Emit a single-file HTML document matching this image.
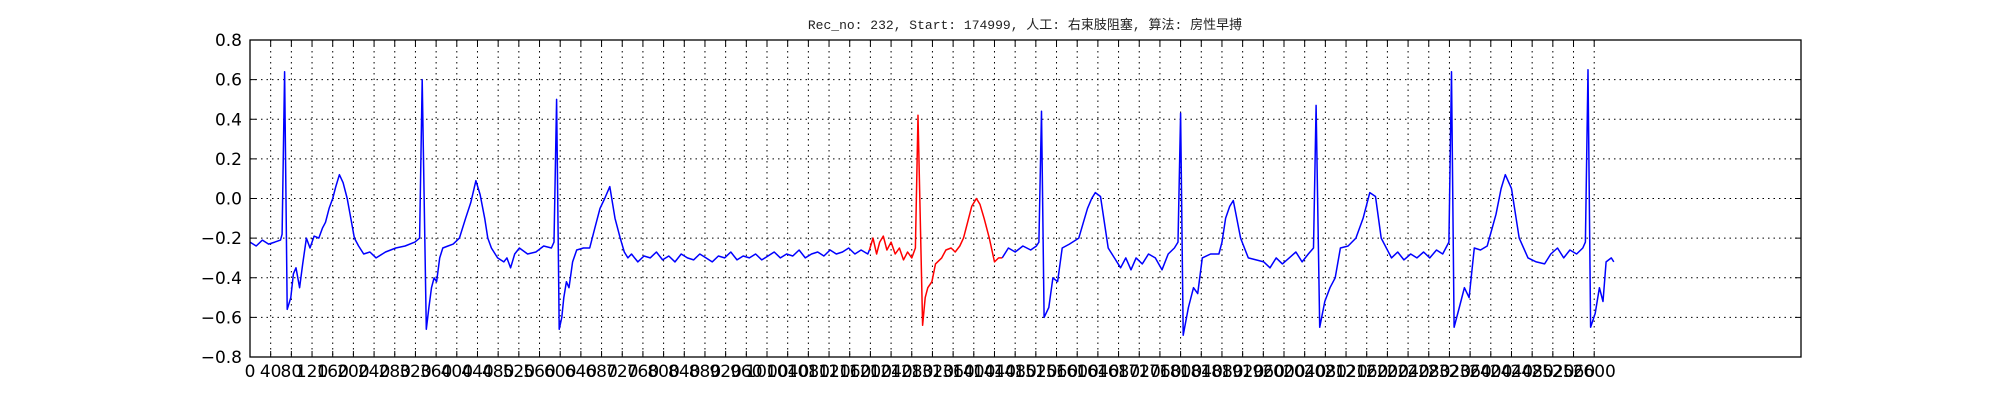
<!DOCTYPE html>
<html><head><meta charset="utf-8"><style>
html,body{margin:0;padding:0;background:#fff;}
svg{display:block;}
</style></head><body>
<svg id="chart" width="2000" height="400" xmlns="http://www.w3.org/2000/svg">
<rect width="2000" height="400" fill="#fff"/>
<text x="1025" y="29" text-anchor="middle" font-family="'Liberation Mono','Noto Sans CJK SC',monospace" font-size="13" fill="#222">Rec_no: 232, Start: 174999, 人工: 右束肢阻塞, 算法: 房性早搏</text>
<g id="grid"></g>
<g id="series"></g>
<rect x="250" y="40" width="1551" height="317" fill="none" stroke="#000" stroke-width="1.3"/>
<g id="ticks"></g>
</svg>
<script>
const yTicks = [0.8,0.6,0.4,0.2,0.0,-0.2,-0.4,-0.6,-0.8];
const yTickLabels = ["0.8","0.6","0.4","0.2","0.0","\u22120.2","\u22120.4","\u22120.6","\u22120.8"];
const xTicks = [];
for (let v = 0; v <= 2600; v += 40) xTicks.push(v);
const blueIdx = [0,12,24,36,48,59,62,67,72,79,84,89,96,102,109,116,124,133,140,146,153,160,166,173,180,188,195,202,210,220,232,244,262,282,300,319,328,333,341,346,351,356,361,367,373,383,393,405,417,427,437,445,454,460,467,479,491,497,504,512,521,537,553,568,583,588,593,598,603,607,612,617,624,632,645,657,667,677,686,696,706,716,724,731,738,750,762,774,786,798,810,822,834,846,858,870,882,894,906,918,930,942,954,966,978,990,1002,1014,1026,1038,1050,1062,1074,1086,1098,1110,1122,1134,1146,1158,1170,1182,1195,1198];
const blueVal = [-0.22,-0.24,-0.21,-0.23,-0.22,-0.21,-0.18,0.64,-0.56,-0.50,-0.38,-0.35,-0.45,-0.33,-0.20,-0.25,-0.19,-0.20,-0.15,-0.12,-0.05,0.0,0.06,0.12,0.08,0.0,-0.10,-0.20,-0.24,-0.28,-0.27,-0.30,-0.27,-0.25,-0.24,-0.22,-0.20,0.60,-0.66,-0.55,-0.45,-0.40,-0.42,-0.30,-0.25,-0.24,-0.23,-0.20,-0.10,-0.02,0.09,0.02,-0.10,-0.20,-0.25,-0.30,-0.32,-0.30,-0.35,-0.28,-0.25,-0.28,-0.27,-0.24,-0.25,-0.22,0.50,-0.66,-0.60,-0.50,-0.42,-0.45,-0.32,-0.26,-0.25,-0.25,-0.15,-0.05,0.0,0.06,-0.10,-0.20,-0.27,-0.30,-0.28,-0.32,-0.29,-0.30,-0.27,-0.31,-0.29,-0.32,-0.28,-0.30,-0.31,-0.28,-0.30,-0.32,-0.29,-0.30,-0.27,-0.31,-0.29,-0.30,-0.28,-0.31,-0.29,-0.27,-0.30,-0.28,-0.29,-0.26,-0.30,-0.28,-0.27,-0.29,-0.26,-0.28,-0.27,-0.25,-0.28,-0.26,-0.28,-0.26];
const redIdx = [1198,1205,1212,1218,1225,1232,1240,1248,1256,1264,1272,1280,1287,1292,1301,1306,1311,1319,1326,1338,1346,1356,1364,1373,1380,1388,1396,1405,1412,1420,1430,1440,1448,1455];
const redVal = [-0.26,-0.20,-0.28,-0.22,-0.19,-0.26,-0.22,-0.28,-0.25,-0.31,-0.27,-0.30,-0.25,0.42,-0.64,-0.50,-0.45,-0.42,-0.33,-0.30,-0.26,-0.25,-0.27,-0.24,-0.20,-0.12,-0.04,0.0,-0.03,-0.10,-0.20,-0.32,-0.30,-0.30];
const blue2Idx = [1455,1467,1480,1495,1510,1521,1526,1531,1536,1545,1553,1562,1571,1585,1603,1612,1620,1628,1635,1645,1660,1672,1684,1694,1704,1714,1726,1738,1751,1764,1776,1788,1795,1800,1805,1815,1825,1833,1842,1858,1874,1880,1887,1895,1902,1916,1931,1946,1961,1973,1985,1997,2010,2023,2035,2047,2057,2062,2069,2079,2089,2099,2109,2124,2139,2153,2166,2177,2188,2208,2220,2232,2245,2257,2270,2282,2295,2307,2319,2324,2329,2339,2349,2358,2368,2380,2393,2410,2420,2428,2440,2455,2472,2488,2504,2516,2529,2541,2553,2566,2578,2583,2588,2593,2602,2610,2617,2623,2633,2638];
const blue2Val = [-0.30,-0.25,-0.27,-0.24,-0.26,-0.24,-0.22,0.44,-0.60,-0.55,-0.40,-0.42,-0.25,-0.23,-0.20,-0.12,-0.05,0.0,0.03,0.01,-0.25,-0.30,-0.35,-0.30,-0.36,-0.30,-0.33,-0.28,-0.30,-0.36,-0.28,-0.25,-0.22,0.43,-0.69,-0.55,-0.45,-0.48,-0.30,-0.28,-0.28,-0.22,-0.10,-0.04,-0.01,-0.20,-0.30,-0.31,-0.32,-0.35,-0.30,-0.33,-0.30,-0.27,-0.32,-0.28,-0.25,0.47,-0.65,-0.52,-0.45,-0.40,-0.25,-0.24,-0.20,-0.10,0.03,0.01,-0.20,-0.30,-0.27,-0.31,-0.28,-0.30,-0.27,-0.30,-0.26,-0.28,-0.22,0.64,-0.65,-0.55,-0.45,-0.50,-0.25,-0.26,-0.24,-0.08,0.05,0.12,0.05,-0.20,-0.30,-0.32,-0.33,-0.28,-0.25,-0.30,-0.26,-0.28,-0.25,-0.22,0.65,-0.65,-0.58,-0.45,-0.52,-0.32,-0.30,-0.32];

const X0 = 250, X1 = 1801, Y0 = 40, Y1 = 357;
const xMin = 0, xMax = 3000, yMin = -0.8, yMax = 0.8;
function xs(v){ return X0 + (v - xMin) / (xMax - xMin) * (X1 - X0); }
function ys(v){ return Y1 - (v - yMin) / (yMax - yMin) * (Y1 - Y0); }
const NS = "http://www.w3.org/2000/svg";
const grid = document.getElementById('grid');
const ticks = document.getElementById('ticks');
const series = document.getElementById('series');
function mk(tag, attrs, parent){
  const e = document.createElementNS(NS, tag);
  for (const k in attrs) e.setAttribute(k, attrs[k]);
  parent.appendChild(e);
  return e;
}
yTicks.forEach((v, i) => {
  const y = ys(v);
  if (i > 0 && i < yTicks.length - 1) {
    const g = mk('line', {x1:X0, x2:X1, y1:y, y2:y, stroke:'#000', 'stroke-width':1, 'stroke-dasharray':'1.5,4'}, grid);
    
    
  }
  const t1 = mk('line', {x1:X0, x2:X0+6, y1:y, y2:y, stroke:'#000', 'stroke-width':1}, ticks);
  
  
  const t2 = mk('line', {x1:X1-6, x2:X1, y1:y, y2:y, stroke:'#000', 'stroke-width':1}, ticks);
  
  
  const lab = mk('text', {x:X0-8, y:y+6, 'text-anchor':'end', 'font-family':"'DejaVu Sans','Liberation Sans',sans-serif", 'font-size':17, fill:'#000'}, ticks);
  lab.textContent = yTickLabels[i];
  
  
});
xTicks.forEach((v) => {
  const x = xs(v);
  if (v > 0) {
    const g = mk('line', {x1:x, x2:x, y1:Y0, y2:Y1, stroke:'#000', 'stroke-width':1, 'stroke-dasharray':'1.5,4'}, grid);
    
    
  }
  const t1 = mk('line', {x1:x, x2:x, y1:Y1-6, y2:Y1, stroke:'#000', 'stroke-width':1}, ticks);
  
  
  const t2 = mk('line', {x1:x, x2:x, y1:Y0, y2:Y0+6, stroke:'#000', 'stroke-width':1}, ticks);
  
  
  const lab = mk('text', {x:x, y:Y1+20, 'text-anchor':'middle', 'font-family':"'DejaVu Sans','Liberation Sans',sans-serif", 'font-size':17, fill:'#000'}, ticks);
  lab.textContent = String(v);
  
  
});
function drawLine(idx, val, color, name){
  const pts = idx.map((s, i) => xs(s).toFixed(1) + ',' + ys(val[i]).toFixed(1)).join(' ');
  const p = mk('polyline', {points:pts, fill:'none', stroke:color, 'stroke-width':1.5, 'stroke-linejoin':'round'}, series);
  
  
}
drawLine(blueIdx, blueVal, '#0000ff', 'ecg-line-before');
drawLine(blue2Idx, blue2Val, '#0000ff', 'ecg-line-after');
drawLine(redIdx, redVal, '#ff0000', 'ecg-highlight-segment');
</script>
</body></html>
